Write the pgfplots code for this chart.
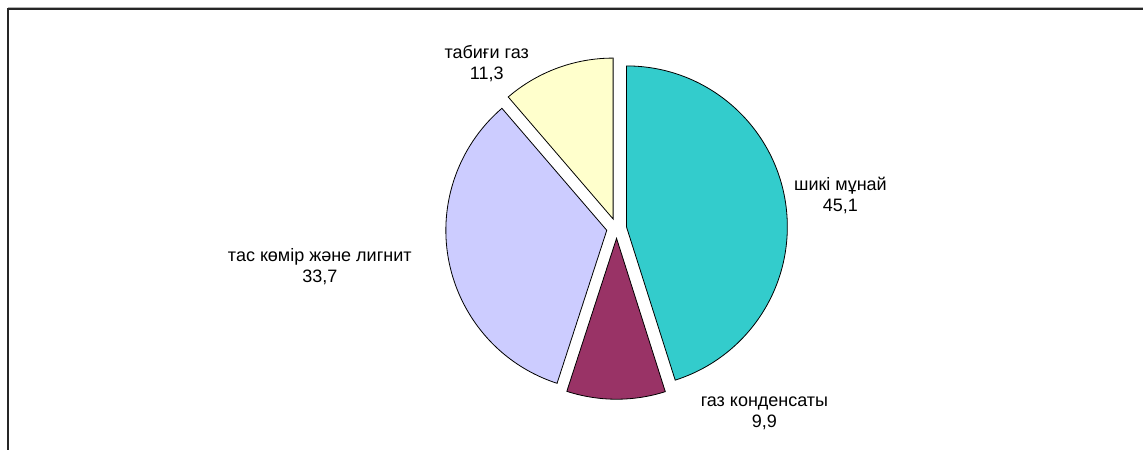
\documentclass[border=0pt]{standalone}
\usepackage{pgfplots}
\usepackage{pgfplotstable}
\pgfplotsset{compat=1.18}
\usepackage{fontspec}
\setmainfont{Liberation Sans}
\definecolor{cCrude}{HTML}{33CCCC}
\definecolor{cCond}{HTML}{993366}
\definecolor{cCoal}{HTML}{CCCCFF}
\definecolor{cGas}{HTML}{FFFFCC}

\pgfplotstableread[col sep=comma]{
name,value
crude,45.1
condensate,9.9
coal,33.7
gas,11.3
}\piedata

\pgfplotstablegetelem{0}{value}\of\piedata \let\vA\pgfplotsretval
\pgfplotstablegetelem{1}{value}\of\piedata \let\vB\pgfplotsretval
\pgfplotstablegetelem{2}{value}\of\piedata \let\vC\pgfplotsretval
\pgfplotstablegetelem{3}{value}\of\piedata \let\vD\pgfplotsretval
\pgfmathsetmacro\sA{90}
\pgfmathsetmacro\eA{\sA-3.6*\vA}
\pgfmathsetmacro\mA{(\sA+\eA)/2}
\pgfmathsetmacro\sB{\eA}
\pgfmathsetmacro\eB{\sB-3.6*\vB}
\pgfmathsetmacro\mB{(\sB+\eB)/2}
\pgfmathsetmacro\sC{\eB}
\pgfmathsetmacro\eC{\sC-3.6*\vC}
\pgfmathsetmacro\mC{(\sC+\eC)/2}
\pgfmathsetmacro\sD{\eC}
\pgfmathsetmacro\eD{\sD-3.6*\vD}
\pgfmathsetmacro\mD{(\sD+\eD)/2}

\newcommand\pieslice[4]{%
  \fill[#1, draw=black, line width=0.8pt]
    ([shift={(#4:10pt)}]axis cs:617,221.5) -- ++(#2:161pt)
    arc[start angle=#2, end angle=#3, radius=161pt] -- cycle;}

\begin{document}%
\begin{tikzpicture}
\begin{axis}[x=1pt, y=1pt, xmin=0, xmax=1144, ymin=0, ymax=450,
  hide axis, clip=false, scale only axis]
  \path (axis cs:0,0) rectangle (axis cs:1144,450);
  \draw[gray!60, line width=1pt] (axis cs:8,442.5) -- (axis cs:1144,442.5);
  \draw[black!85, line width=1.6pt] (axis cs:8,0) -- (axis cs:8,441) -- (axis cs:1144,441);
  \pieslice{cCrude}{\sA}{\eA}{\mA}
  \pieslice{cCond}{\sB}{\eB}{\mB}
  \pieslice{cCoal}{\sC}{\eC}{\mC}
  \pieslice{cGas}{\sD}{\eD}{\mD}
  \node[align=center, font=\fontsize{18}{21}\selectfont] at (axis cs:487,386) {табиғи газ\\11,3};
  \node[align=center, font=\fontsize{18}{21}\selectfont] at (axis cs:841,254) {шикі мұнай\\45,1};
  \node[align=center, font=\fontsize{18}{21}\selectfont] at (axis cs:320,183) {тас көмір және лигнит\\33,7};
  \node[align=center, font=\fontsize{18}{21}\selectfont] at (axis cs:765,36) {газ конденсаты\\9,9};
\end{axis}
\end{tikzpicture}%
\end{document}
